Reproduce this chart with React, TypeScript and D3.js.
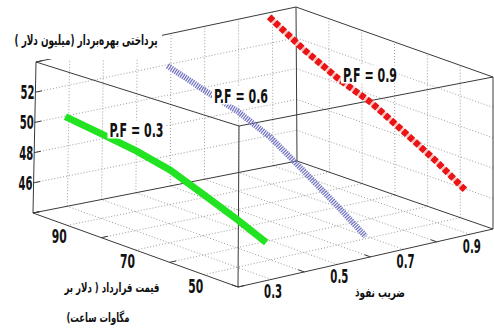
import React from 'react';
import * as d3 from 'd3';

const W = 494;
const H = 329;

// axis limits (PF along front-right edge, price along front-left edge, payment vertical)
const pfDomain = [0.2, 0.97];
const priceDomain = [40, 100];
const payDomain = [44, 54];

const pfTicks = [0.2, 0.4, 0.6, 0.8];
const priceTicks = [40, 60, 80, 100];
const payTicks = [44, 46, 48, 50, 52, 54];

const pfGrid = [0.3, 0.4, 0.5, 0.6, 0.7, 0.8, 0.9];
const priceGrid = [50, 60, 70, 80, 90];
const payGrid = [46, 48, 50, 52];

const pfLabels = [0.3, 0.5, 0.7, 0.9];
const priceLabels = [90, 70, 50];
const payLabels = [52, 50, 48, 46];

// series
const price = [101, 90, 80, 70, 60, 50, 41.5];
const payPF03 = [49.85, 49.5, 49.17, 48.68, 47.85, 47.0, 46.2];
const payPF06 = [51.8, 51.03, 50.4, 49.43, 48.0, 46.52, 45.2];
const payPF09 = [53.6, 52.22, 51.16, 50.35, 49.19, 47.98, 46.8];

const zTitle = 'پرداختی بهره‌بردار (میلیون دلار )';
const priceTitle1 = 'قیمت قرارداد ( دلار بر';
const priceTitle2 = 'مگاوات ساعت)';
const pfTitle = 'ضریب نفوذ';

type Pt = [number, number];

// screen corners of the axes box: F front, R right, L left, B back; 0 bottom, 1 top
const corners: Record<string, Pt> = {
  F0: [238, 287], R0: [493, 229], L0: [33, 213], B0: [297, 161],
  F1: [239, 126], R1: [493, 77], L1: [36, 62], B1: [296, 7],
};

const uS = d3.scaleLinear().domain(pfDomain).range([0, 1]);
const vS = d3.scaleLinear().domain(priceDomain).range([0, 1]);
const wS = d3.scaleLinear().domain(payDomain).range([0, 1]);

const lerp = (a: Pt, b: Pt, t: number): Pt => [a[0] + (b[0] - a[0]) * t, a[1] + (b[1] - a[1]) * t];
const bil = (a: Pt, b: Pt, c: Pt, d: Pt, s: number, t: number): Pt =>
  lerp(lerp(a, b, s), lerp(c, d, s), t);

function project(pf: number, p: number, z: number): Pt {
  const s = uS(pf), t = vS(p), r = wS(z);
  const c = corners;
  const bot = bil(c.F0, c.R0, c.L0, c.B0, s, t);
  const top = bil(c.F1, c.R1, c.L1, c.B1, s, t);
  return lerp(bot, top, r);
}

const pfMin = pfDomain[0], pfMax = pfDomain[1];
const pMin = priceDomain[0], pMax = priceDomain[1];
const zMin = payDomain[0], zMax = payDomain[1];

const line = d3.line<Pt>();
const seg = (a: Pt, b: Pt) => line([a, b]) || '';

const series = [
  { pf: 0.3, pay: payPF03, label: 'P.F = 0.3', lx: 136.5, ly: 129.5 },
  { pf: 0.6, pay: payPF06, label: 'P.F = 0.6', lx: 241, ly: 95.5 },
  { pf: 0.9, pay: payPF09, label: 'P.F = 0.9', lx: 370, ly: 74.5 },
];

const narrow = '"Liberation Sans Narrow", "Arial Narrow", "DejaVu Sans Condensed", sans-serif';
const persian = '"DejaVu Sans", sans-serif';

export default function App() {
  const grid: string[] = [];
  pfGrid.forEach((pf) => {
    grid.push(seg(project(pf, pMin, zMin), project(pf, pMax, zMin)));
    grid.push(seg(project(pf, pMax, zMin), project(pf, pMax, zMax)));
  });
  priceGrid.forEach((p) => {
    grid.push(seg(project(pfMin, p, zMin), project(pfMax, p, zMin)));
    grid.push(seg(project(pfMax, p, zMin), project(pfMax, p, zMax)));
  });
  payGrid.forEach((z) => {
    grid.push(seg(project(pfMin, pMax, z), project(pfMax, pMax, z)));
    grid.push(seg(project(pfMax, pMin, z), project(pfMax, pMax, z)));
  });

  const c = corners;
  const edges: [Pt, Pt][] = [
    [c.F0, c.R0], [c.F0, c.L0], [c.L0, c.B0], [c.B0, c.R0],
    [c.F1, c.R1], [c.F1, c.L1], [c.L1, c.B1], [c.B1, c.R1],
    [c.F0, c.F1], [c.R0, c.R1], [c.L0, c.L1], [c.B0, c.B1],
  ];

  const ticks: string[] = [];
  const du = (pfMax - pfMin) * 0.025;
  const dv = (pMax - pMin) * 0.03;
  payTicks.forEach((z) => ticks.push(seg(project(pfMin, pMax, z), project(pfMin + du, pMax, z))));
  priceTicks.forEach((p) => ticks.push(seg(project(pfMin, p, zMin), project(pfMin + du, p, zMin))));
  pfTicks.forEach((pf) => ticks.push(seg(project(pf, pMin, zMin), project(pf, pMin + dv, zMin))));

  const paths = series.map((s) => line(price.map((p, i) => project(s.pf, p, s.pay[i]))) || '');

  return (
    <div style={{ position: 'absolute', left: 0, top: 0 }}>
      <svg width={W} height={H} viewBox={`0 0 ${W} ${H}`} style={{ display: 'block', background: '#fff' }}>
        <rect width={W} height={H} fill="#fff" />
        <g stroke="#9e9e9e" strokeWidth={1} strokeDasharray="1 2" fill="none">
          {grid.map((d, i) => <path key={i} d={d} />)}
        </g>
        <g stroke="#3a3a3a" strokeWidth={1} fill="none">
          {edges.map(([a, b], i) => <path key={i} d={seg(a, b)} />)}
          {ticks.map((d, i) => <path key={'t' + i} d={d} />)}
        </g>

        {/* series */}
        <path d={paths[0]} fill="none" stroke="#22e322" strokeWidth={7} />
        <path d={paths[1]} fill="none" stroke="#7474c4" strokeWidth={6} strokeDasharray="1.3 1" />
        <path d={paths[2]} fill="none" stroke="#f5c4c4" strokeWidth={5} />
        <path d={paths[2]} fill="none" stroke="#ea1414" strokeWidth={6.5} strokeDasharray="5.5 2.5" />

        {/* series labels */}
        {series.map((s) => (
          <g key={s.label}>
            <rect x={s.lx - 29} y={s.ly - 9} width={58} height={18} fill="#fff" />
            <text x={s.lx} y={s.ly + 7} textAnchor="middle" fontFamily={narrow} fontWeight="bold"
              fontSize={20} textLength={54} lengthAdjust="spacingAndGlyphs" fill="#111">{s.label}</text>
          </g>
        ))}

        {/* tick labels */}
        <g fontFamily={narrow} fontWeight="bold" fontSize={20} fill="#111">
          {payLabels.map((z) => {
            const [x, y] = project(pfMin, pMax, z);
            return <text key={z} x={x - 1} y={y + 7} textAnchor="end" textLength={14} lengthAdjust="spacingAndGlyphs">{z}</text>;
          })}
          {priceLabels.map((p) => {
            const [x, y] = project(pfMin, p, zMin);
            return <text key={p} x={x - 8} y={y + 18} textAnchor="middle" textLength={15} lengthAdjust="spacingAndGlyphs">{p}</text>;
          })}
          {pfLabels.map((pf) => {
            const [x, y] = project(pf, pMin, zMin);
            return <text key={pf} x={x + 2} y={y + 19} textAnchor="middle" textLength={18} lengthAdjust="spacingAndGlyphs">{pf.toFixed(1)}</text>;
          })}
        </g>

        {/* axis titles */}
        <rect x={12} y={28} width={150} height={31} fill="#fff" />
        <g fontFamily={persian} fontWeight="bold" fill="#111">
          <text x={86} y={45} textAnchor="middle" direction="rtl" fontSize={14} textLength={143} lengthAdjust="spacingAndGlyphs">{zTitle}</text>
          <text x={112} y={292} textAnchor="middle" direction="rtl" fontSize={13} textLength={95} lengthAdjust="spacingAndGlyphs">{priceTitle1}</text>
          <text x={98} y={322} textAnchor="middle" direction="rtl" fontSize={13} textLength={63} lengthAdjust="spacingAndGlyphs">{priceTitle2}</text>
          <text x={380} y={297} textAnchor="middle" direction="rtl" fontSize={13} textLength={50} lengthAdjust="spacingAndGlyphs">{pfTitle}</text>
        </g>
      </svg>
    </div>
  );
}
